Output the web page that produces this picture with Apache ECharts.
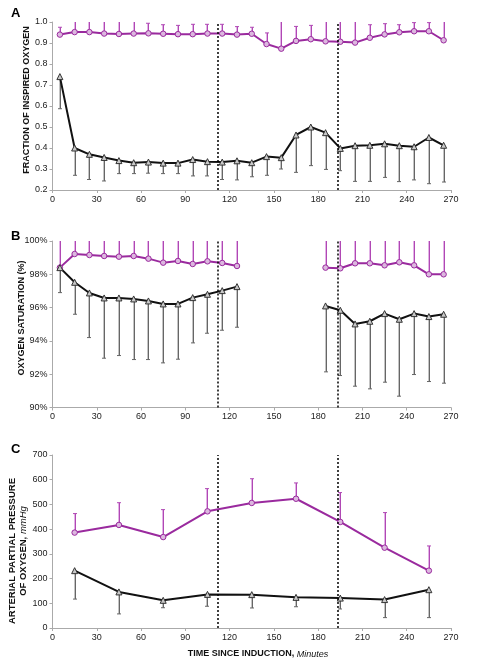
<!DOCTYPE html>
<html><head><meta charset="utf-8">
<script src="https://cdn.jsdelivr.net/npm/echarts@6/dist/echarts.min.js"></script>
<style>html,body{margin:0;padding:0;background:#fff}#c{width:477px;height:659px}</style>
</head><body><div id="c"></div>
<script>
// ---- data ----
const timesAB = [5,15,25,35,45,55,65,75,85,95,105,115,125,135,145,155,165,175,185,195,205,215,225,235,245,255,265];
const timesC = [15,45,75,105,135,165,195,225,255];
const eventTimes = [112, 193];

const fio2Purple = [0.94,0.952,0.952,0.945,0.943,0.945,0.946,0.944,0.942,0.942,0.945,0.945,0.94,0.944,0.895,0.873,0.91,0.918,0.908,0.906,0.902,0.925,0.941,0.951,0.956,0.956,0.913];
const fio2PurpleUpper = [0.975,1.05,1.05,1.05,1.05,1.05,0.994,0.987,0.984,0.989,0.989,0.989,0.978,0.975,0.948,1.05,0.979,0.984,1.05,1.05,1.05,0.987,0.992,0.987,0.997,0.997,1.05];
const fio2Black = [0.74,0.40,0.37,0.355,0.34,0.33,0.333,0.328,0.328,0.345,0.335,0.333,0.339,0.33,0.359,0.354,0.462,0.50,0.473,0.398,0.411,0.413,0.42,0.411,0.406,0.45,0.413];
const fio2BlackLower = [0.587,0.27,0.25,0.243,0.278,0.278,0.28,0.278,0.278,0.267,0.267,0.25,0.248,0.263,0.27,0.30,0.284,0.316,0.298,0.292,0.241,0.241,0.26,0.24,0.248,0.23,0.238];

const satPurple = [98.4,99.22,99.16,99.1,99.06,99.1,98.94,98.7,98.8,98.62,98.78,98.68,98.5,null,null,null,null,null,98.4,98.36,98.66,98.66,98.54,98.72,98.54,98.0,98.0];
const satPurpleUpper = [101,101,101,101,101,101,101,101,101,101,101,101,101,null,null,null,null,null,101,101,101,101,101,101,101,101,101];
const satBlack = [98.4,97.52,96.88,96.58,96.58,96.52,96.4,96.22,96.22,96.6,96.8,97.02,97.26,null,null,null,null,null,96.1,95.84,95.02,95.18,95.64,95.3,95.64,95.46,95.6];
const satBlackLower = [96.9,95.6,94.2,92.96,93.12,92.88,92.88,92.68,92.9,93.88,94.46,94.64,94.82,null,null,null,null,null,92.14,91.92,91.28,91.12,91.52,90.68,91.98,91.56,91.46];

const pao2Purple = [386,417,368,472,506,523,429,325,232];
const pao2PurpleUpper = [463,507,479,564,604,587,548,467,332];
const pao2Black = [232,146,112,136,135,124,121,115,155];
const pao2BlackLower = [117,57,82,88,81,86,77,42,42];

const xTicks = { min: 0, max: 270, interval: 30 };
const yTicksA = { min: 0.2, max: 1.0, interval: 0.1 };
const yTicksB = { min: 90, max: 100, interval: 2 };
const yTicksC = { min: 0, max: 700, interval: 100 };

// ---- styles ----
const PURPLE = '#9a2a9e';
const PURPLE_FILL = '#dcb8df';
const BLACK = '#111';
const TRI_FILL = '#c8c8c8';
const FONT = 'Liberation Sans, Arial, sans-serif';

function pairs(xs, ys){ return xs.map((x,i)=>[x, ys[i]]); }
function triples(xs, ys, es){ return xs.map((x,i)=>[x, ys[i], es[i]]).filter(d=>d[1]!=null); }

function errSeries(idx, xs, ys, es, light, dark){
  return {
    type: 'custom', xAxisIndex: idx, yAxisIndex: idx, z: 1, clip: true, silent: true,
    data: triples(xs, ys, es),
    renderItem: function(params, api){
      const p1 = api.coord([api.value(0), api.value(1)]);
      const p2 = api.coord([api.value(0), api.value(2)]);
      const cs = params.coordSys;
      let y2 = p2[1]; let capped = true;
      if (y2 < cs.y + 0.5) { y2 = cs.y; capped = false; }
      if (y2 > cs.y + cs.height) { y2 = cs.y + cs.height; capped = false; }
      const x = Math.round(p1[0]);
      const ch = [
        {type:'line', shape:{x1:x-0.5,y1:p1[1],x2:x-0.5,y2:y2}, style:{stroke:light, lineWidth:1}},
        {type:'line', shape:{x1:x+0.5,y1:p1[1],x2:x+0.5,y2:y2}, style:{stroke:dark, lineWidth:1}}
      ];
      if (capped) ch.push({type:'line', shape:{x1:x-2,y1:y2,x2:x+2,y2:y2}, style:{stroke:dark, lineWidth:1}});
      return {type:'group', children: ch};
    }
  };
}

function lineSeries(idx, xs, ys, color, sym, fill, size, width, withMark){
  const s = {
    type: 'line', xAxisIndex: idx, yAxisIndex: idx, z: 3,
    data: pairs(xs, ys), connectNulls: false,
    symbol: sym, symbolSize: size, showAllSymbol: true,
    lineStyle: {color: color, width: width},
    itemStyle: {color: fill, borderColor: color === BLACK ? '#333' : color, borderWidth: 1},
    emphasis: {disabled: true}, animation: false
  };
  if (withMark) {
    s.markLine = {
      silent: true, symbol: 'none', label: {show:false},
      lineStyle: {color:'#000', type:[2,2], width:1.5},
      data: eventTimes.map(t=>({xAxis: t}))
    };
  }
  return s;
}

const grids = [
  {left: 52.5, top: 22, width: 398.5, height: 168},
  {left: 52.5, top: 241, width: 398.5, height: 166.5},
  {left: 52.5, top: 455, width: 398.5, height: 173}
];

function xAxis(idx){
  return {
    type:'value', gridIndex: idx, min: xTicks.min, max: xTicks.max, interval: xTicks.interval,
    axisLine:{show:true, onZero:false, lineStyle:{color:'#aaa', width:1}},
    axisTick:{show:true, length:3, lineStyle:{color:'#aaa'}},
    axisLabel:{color:'#222', fontSize:9, fontFamily:FONT, margin:5},
    splitLine:{show:false}
  };
}
function yAxis(idx, t, fmt){
  return {
    type:'value', gridIndex: idx, min: t.min, max: t.max, interval: t.interval,
    axisLine:{show:true, lineStyle:{color:'#aaa', width:1}},
    axisTick:{show:true, length:3, lineStyle:{color:'#aaa'}},
    axisLabel:{color:'#222', fontSize:9, fontFamily:FONT, margin:5, formatter: fmt},
    splitLine:{show:false}
  };
}

const chart = echarts.init(document.getElementById('c'), null, {renderer:'canvas'});
chart.setOption({
  animation: false,
  backgroundColor: '#fff',
  grid: grids,
  xAxis: [xAxis(0), xAxis(1), xAxis(2)],
  yAxis: [
    yAxis(0, yTicksA, v => v.toFixed(1)),
    yAxis(1, yTicksB, v => Math.round(v) + '%'),
    yAxis(2, yTicksC, v => String(Math.round(v)))
  ],
  series: [
    errSeries(0, timesAB, fio2Purple, fio2PurpleUpper, '#e2b2e6', '#b048b4'),
    errSeries(0, timesAB, fio2Black, fio2BlackLower, '#c4c4c4', '#666'),
    lineSeries(0, timesAB, fio2Purple, PURPLE, 'circle', PURPLE_FILL, 5.5, 2, true),
    lineSeries(0, timesAB, fio2Black, BLACK, 'triangle', TRI_FILL, 6, 2, false),

    errSeries(1, timesAB, satPurple, satPurpleUpper, '#e2b2e6', '#b048b4'),
    errSeries(1, timesAB, satBlack, satBlackLower, '#c4c4c4', '#666'),
    lineSeries(1, timesAB, satPurple, PURPLE, 'circle', PURPLE_FILL, 5.5, 2, true),
    lineSeries(1, timesAB, satBlack, BLACK, 'triangle', TRI_FILL, 6, 2, false),

    errSeries(2, timesC, pao2Purple, pao2PurpleUpper, '#e2b2e6', '#b048b4'),
    errSeries(2, timesC, pao2Black, pao2BlackLower, '#c4c4c4', '#666'),
    lineSeries(2, timesC, pao2Purple, PURPLE, 'circle', PURPLE_FILL, 5.5, 2, true),
    lineSeries(2, timesC, pao2Black, BLACK, 'triangle', TRI_FILL, 6, 2, false)
  ],
  graphic: [
    {type:'text', left: 11, top: 7, style:{text:'A', font:'bold 13px ' + FONT, fill:'#000'}},
    {type:'text', left: 11, top: 230, style:{text:'B', font:'bold 13px ' + FONT, fill:'#000'}},
    {type:'text', left: 11, top: 443, style:{text:'C', font:'bold 13px ' + FONT, fill:'#000'}},
    {type:'text', x: 27, y: 100, rotation: Math.PI/2,
      style:{text:'FRACTION OF INSPIRED OXYGEN', font:'bold 9px ' + FONT, fill:'#111', align:'center', verticalAlign:'middle'}},
    {type:'text', x: 21.5, y: 318, rotation: Math.PI/2,
      style:{text:'OXYGEN SATURATION (%)', font:'bold 9px ' + FONT, fill:'#111', align:'center', verticalAlign:'middle'}},
    {type:'text', x: 18, y: 551, rotation: Math.PI/2,
      style:{text:'{b|ARTERIAL PARTIAL PRESSURE}\n{b|OF OXYGEN, }{i|mmHg}', align:'center', verticalAlign:'middle',
        rich:{
          b:{font:'bold 9.5px ' + FONT, fill:'#111', lineHeight:11},
          i:{font:'italic 9.5px ' + FONT, fill:'#111', lineHeight:11}
        }}},
    {type:'text', x: 258, y: 654,
      style:{text:'{b|TIME SINCE INDUCTION, }{i|Minutes}', align:'center', verticalAlign:'middle',
        rich:{
          b:{font:'bold 9px ' + FONT, fill:'#111'},
          i:{font:'italic 9px ' + FONT, fill:'#111'}
        }}}
  ]
});
</script>
</body></html>
